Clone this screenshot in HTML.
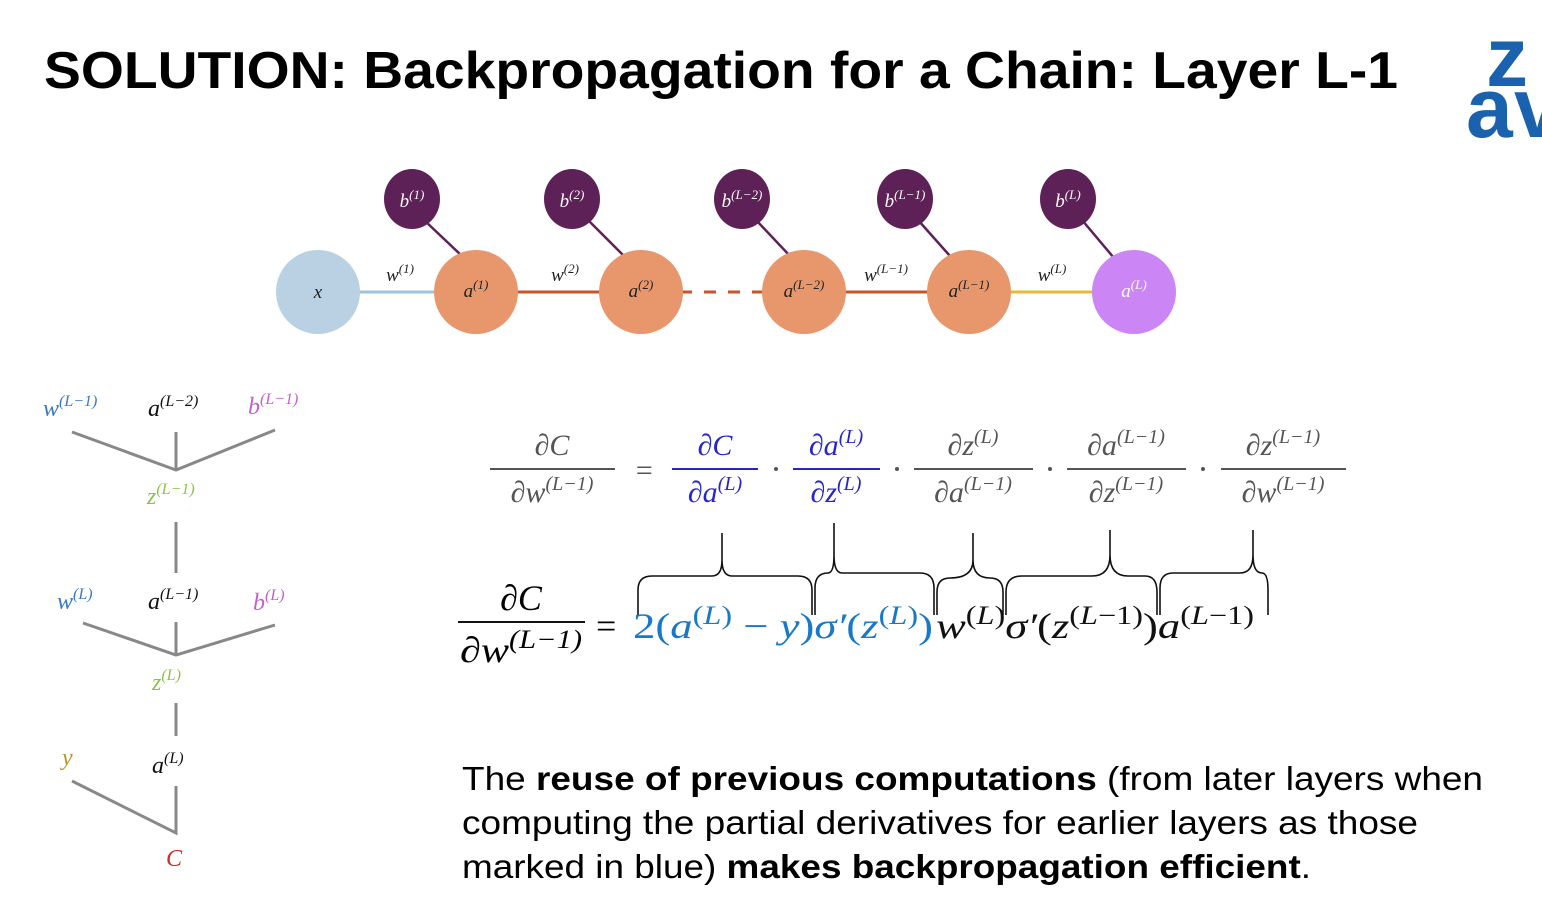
<!DOCTYPE html>
<html><head><meta charset="utf-8"><style>
html,body{margin:0;padding:0;background:#fff;}
svg{display:block;}
.m{font-family:"Liberation Serif",serif;font-style:italic;}
.s{font-family:"Liberation Sans",sans-serif;}
</style></head><body>
<svg width="1542" height="915" viewBox="0 0 1542 915" xmlns="http://www.w3.org/2000/svg">
<text class="s" x="44" y="88" font-size="52" font-weight="bold" textLength="1354" lengthAdjust="spacingAndGlyphs">SOLUTION: Backpropagation for a Chain: Layer L-1</text>
<g fill="#1a62ad" class="s" font-weight="bold">
<text x="1486" y="86" font-size="84">z</text><text x="1466" y="137" font-size="84">a</text><text x="1514" y="137" font-size="84">v</text>
</g>

<g>
<g stroke-width="3">
<line x1="356" y1="292" x2="438" y2="292" stroke="#9cc3dc"/>
<line x1="514" y1="292" x2="602" y2="292" stroke="#c8552a"/>
<line x1="680" y1="292" x2="766" y2="292" stroke="#c8552a" stroke-dasharray="12,12"/>
<line x1="842" y1="292" x2="930" y2="292" stroke="#c8552a"/>
<line x1="1006" y1="292" x2="1096" y2="292" stroke="#e8b83a"/>
<g stroke="#5e2157" stroke-width="2.5">
<line x1="424" y1="220" x2="462" y2="256"/><line x1="588" y1="220" x2="624" y2="256"/><line x1="756" y1="220" x2="790" y2="256"/><line x1="918" y1="220" x2="950" y2="256"/><line x1="1082" y1="220" x2="1114" y2="258"/>
</g></g>
<g fill="#5e2157">
<ellipse cx="412" cy="199" rx="28" ry="30"/><ellipse cx="572" cy="199" rx="28" ry="30"/><ellipse cx="742" cy="199" rx="28" ry="30"/><ellipse cx="905" cy="199" rx="28" ry="30"/><ellipse cx="1068" cy="199" rx="28" ry="30"/>
</g>
<ellipse cx="318" cy="292" rx="42" ry="42" fill="#b9d1e3"/>
<g fill="#e8966b">
<ellipse cx="476" cy="292" rx="42" ry="42"/><ellipse cx="641" cy="292" rx="42" ry="42"/><ellipse cx="804" cy="292" rx="42" ry="42"/><ellipse cx="969" cy="292" rx="42" ry="42"/>
</g>
<ellipse cx="1134" cy="292" rx="42" ry="42" fill="#cc85f5"/>
<g class="m" font-size="19" fill="#fff" text-anchor="middle">
<text x="412" y="207">b<tspan font-size="13" dy="-8">(1)</tspan></text>
<text x="572" y="207">b<tspan font-size="13" dy="-8">(2)</tspan></text>
<text x="742" y="207">b<tspan font-size="13" dy="-8">(L−2)</tspan></text>
<text x="905" y="207">b<tspan font-size="13" dy="-8">(L−1)</tspan></text>
<text x="1068" y="207">b<tspan font-size="13" dy="-8">(L)</tspan></text>
</g>
<g class="m" font-size="19" fill="#222" text-anchor="middle">
<text x="318" y="298">x</text>
<text x="476" y="297">a<tspan font-size="13" dy="-8">(1)</tspan></text>
<text x="641" y="297">a<tspan font-size="13" dy="-8">(2)</tspan></text>
<text x="804" y="297">a<tspan font-size="13" dy="-8">(L−2)</tspan></text>
<text x="969" y="297">a<tspan font-size="13" dy="-8">(L−1)</tspan></text>
<text x="1134" y="297" fill="#fff">a<tspan font-size="13" dy="-8">(L)</tspan></text>
<text x="400" y="281">w<tspan font-size="13" dy="-8">(1)</tspan></text>
<text x="565" y="281">w<tspan font-size="13" dy="-8">(2)</tspan></text>
<text x="886" y="281">w<tspan font-size="13" dy="-8">(L−1)</tspan></text>
<text x="1052" y="281">w<tspan font-size="13" dy="-8">(L)</tspan></text>
</g>
</g>

<g>
<g stroke="#888" stroke-width="3" fill="none">
<polyline points="72,432 176,470 275,430"/><line x1="176" y1="432" x2="176" y2="470"/>
<line x1="176" y1="522" x2="176" y2="573"/>
<polyline points="83,623 176,655 275,625"/><line x1="176" y1="622" x2="176" y2="655"/>
<line x1="176" y1="703" x2="176" y2="736"/>
<polyline points="72,781 176,833 176,786"/>
</g>
<g class="m" font-size="24">
<text x="43" y="416" fill="#3a77c4">w<tspan font-size="16" dy="-10">(L−1)</tspan></text>
<text x="148" y="416" fill="#111">a<tspan font-size="16" dy="-10">(L−2)</tspan></text>
<text x="248" y="414" fill="#c35fcf">b<tspan font-size="16" dy="-10">(L−1)</tspan></text>
<text x="147" y="504" fill="#8bc34a">z<tspan font-size="16" dy="-10">(L−1)</tspan></text>
<text x="57" y="609" fill="#3a77c4">w<tspan font-size="16" dy="-10">(L)</tspan></text>
<text x="148" y="609" fill="#111">a<tspan font-size="16" dy="-10">(L−1)</tspan></text>
<text x="253" y="610" fill="#c35fcf">b<tspan font-size="16" dy="-10">(L)</tspan></text>
<text x="152" y="690" fill="#8bc34a">z<tspan font-size="16" dy="-10">(L)</tspan></text>
<text x="62" y="765" fill="#b8962a">y</text>
<text x="152" y="773" fill="#111">a<tspan font-size="16" dy="-10">(L)</tspan></text>
<text x="166" y="866" fill="#c8302a">C</text>
</g>
</g>

<g class="m" font-size="30" text-anchor="middle">
<g fill="#555" stroke="none">
<text x="552" y="455">∂C</text><text x="552" y="502">∂w<tspan font-size="20" dy="-12">(L−1)</tspan></text>
<text x="644" y="480">=</text>
</g>
<g fill="#2626cc"><text x="715" y="455">∂C</text><text x="715" y="502">∂a<tspan font-size="20" dy="-12">(L)</tspan></text>
<text x="836" y="455">∂a<tspan font-size="20" dy="-12">(L)</tspan></text><text x="836" y="502">∂z<tspan font-size="20" dy="-12">(L)</tspan></text></g>
<g fill="#555">
<text x="973" y="455">∂z<tspan font-size="20" dy="-12">(L)</tspan></text><text x="973" y="502">∂a<tspan font-size="20" dy="-12">(L−1)</tspan></text>
<text x="1126" y="455">∂a<tspan font-size="20" dy="-12">(L−1)</tspan></text><text x="1126" y="502">∂z<tspan font-size="20" dy="-12">(L−1)</tspan></text>
<text x="1283" y="455">∂z<tspan font-size="20" dy="-12">(L−1)</tspan></text><text x="1283" y="502">∂w<tspan font-size="20" dy="-12">(L−1)</tspan></text>
</g>
<g stroke-width="2">
<line x1="490" y1="469" x2="615" y2="469" stroke="#555"/>
<line x1="672" y1="469" x2="758" y2="469" stroke="#2626cc"/>
<line x1="793" y1="469" x2="880" y2="469" stroke="#2626cc"/>
<line x1="914" y1="469" x2="1033" y2="469" stroke="#555"/>
<line x1="1067" y1="469" x2="1186" y2="469" stroke="#555"/>
<line x1="1221" y1="469" x2="1346" y2="469" stroke="#555"/>
</g>
<g fill="#555"><circle cx="776" cy="469" r="2"/><circle cx="897" cy="469" r="2"/><circle cx="1050" cy="469" r="2"/><circle cx="1203" cy="469" r="2"/></g>
</g>

<g fill="none" stroke="#111" stroke-width="1.6">
<path d="M638,615 V590 Q638,576 652,576 H712 Q722,576 722,560 V533 V560 Q722,576 732,576 H798 Q812,576 812,590 V615"/>
<path d="M815,615 V588 Q815,573 828,573 Q834,573 834,555 V523 V555 Q834,573 842,573 H920 Q934,573 934,588 V615"/>
<path d="M937,615 V592 Q937,578 950,578 Q973,578 973,560 V533 V560 Q973,578 990,578 Q1003,578 1003,592 V615"/>
<path d="M1006,615 V592 Q1006,576 1022,576 H1092 Q1110,576 1110,555 V530 V555 Q1110,576 1128,576 H1145 Q1157,576 1157,592 V615"/>
<path d="M1160,615 V588 Q1160,573 1173,573 H1240 Q1253,573 1253,555 V530 V555 Q1253,573 1262,573 Q1268,573 1268,590 V615"/>
</g>

<g font-family="'Liberation Serif',serif" font-size="36">
<text x="521" y="610" text-anchor="middle" font-style="italic">∂C</text>
<line x1="458" y1="622" x2="585" y2="622" stroke="#111" stroke-width="2"/>
<text x="460" y="662" font-style="italic" textLength="122" lengthAdjust="spacingAndGlyphs">∂w<tspan font-size="26" dy="-14">(L−1)</tspan></text>
<text x="596" y="638">=</text>
<text x="633" y="638" fill="#1a78c8" textLength="300" lengthAdjust="spacingAndGlyphs"><tspan>2(</tspan><tspan font-style="italic">a</tspan><tspan font-size="26" dy="-14">(</tspan><tspan font-size="26" font-style="italic">L</tspan><tspan font-size="26">)</tspan><tspan dy="14"> − </tspan><tspan font-style="italic">y</tspan><tspan>)</tspan><tspan font-style="italic">σ′</tspan><tspan>(</tspan><tspan font-style="italic">z</tspan><tspan font-size="26" dy="-14">(</tspan><tspan font-size="26" font-style="italic">L</tspan><tspan font-size="26">)</tspan><tspan dy="14">)</tspan></text>
<text x="936" y="638" fill="#111" textLength="318" lengthAdjust="spacingAndGlyphs"><tspan font-style="italic">w</tspan><tspan font-size="26" dy="-14">(</tspan><tspan font-size="26" font-style="italic">L</tspan><tspan font-size="26">)</tspan><tspan dy="14" font-style="italic">σ′</tspan><tspan>(</tspan><tspan font-style="italic">z</tspan><tspan font-size="26" dy="-14">(</tspan><tspan font-size="26" font-style="italic">L</tspan><tspan font-size="26">−1)</tspan><tspan dy="14">)</tspan><tspan font-style="italic">a</tspan><tspan font-size="26" dy="-14">(</tspan><tspan font-size="26" font-style="italic">L</tspan><tspan font-size="26">−1)</tspan></text>
</g>

<g class="s" font-size="33" fill="#000">
<text x="462" y="790" textLength="1021" lengthAdjust="spacingAndGlyphs">The <tspan font-weight="bold">reuse of previous computations</tspan> (from later layers when</text>
<text x="462" y="834" textLength="956" lengthAdjust="spacingAndGlyphs">computing the partial derivatives for earlier layers as those</text>
<text x="462" y="878" textLength="849" lengthAdjust="spacingAndGlyphs">marked in blue) <tspan font-weight="bold">makes backpropagation efficient</tspan>.</text>
</g>
</svg>
</body></html>
